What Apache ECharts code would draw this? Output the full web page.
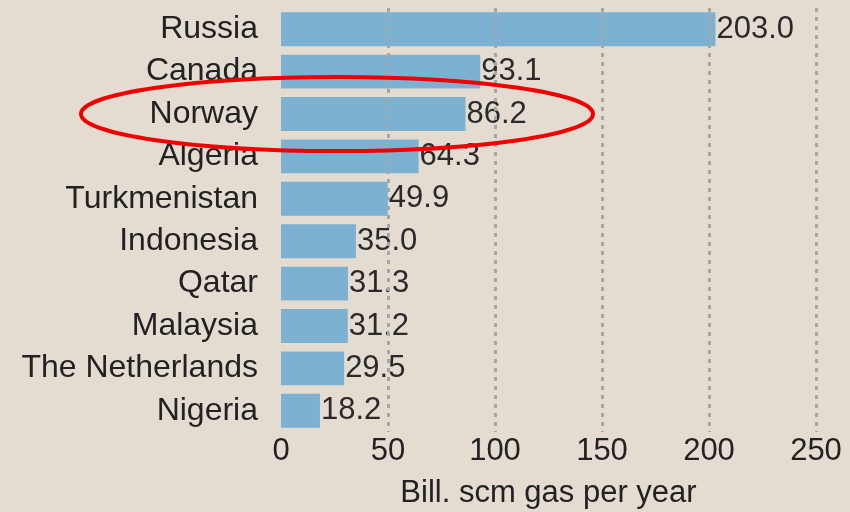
<!DOCTYPE html>
<html>
<head>
<meta charset="utf-8" />
<title>Gas production</title>
<script src="https://cdn.jsdelivr.net/npm/echarts@6/dist/echarts.min.js"></script>
<style>
  html, body { margin: 0; padding: 0; background: #e4dcd1; }
  #main { width: 850px; height: 512px; }
</style>
</head>
<body>
<div id="main"></div>
<script>
// data
var countries = ['Russia', 'Canada', 'Norway', 'Algeria', 'Turkmenistan', 'Indonesia',
                 'Qatar', 'Malaysia', 'The Netherlands', 'Nigeria'];
var gasOutput = [203.0, 93.1, 86.2, 64.3, 49.9, 35.0, 31.3, 31.2, 29.5, 18.2];
var xTicks = [0, 50, 100, 150, 200, 250];
var xTitle = 'Bill. scm gas per year';

var font = '"Liberation Sans", Arial, sans-serif';
var chart = echarts.init(document.getElementById('main'));

var option = {
    backgroundColor: '#e4dcd1',
    animation: false,
    textStyle: { fontFamily: font },
    grid: { left: 281, right: 34, top: 8, bottom: 80, outerBoundsMode: 'none', containLabel: false },
    xAxis: {
        type: 'value',
        min: xTicks[0],
        max: xTicks[xTicks.length - 1],
        interval: xTicks[1] - xTicks[0],
        z: 5, // dotted lines sit over the bars
        axisLine: { show: false },
        axisTick: { show: false },
        axisLabel: { fontSize: 31, color: '#222', margin: 4, fontFamily: font },
        splitLine: {
            show: true,
            showMinLine: false,
            lineStyle: { color: '#a3a6ab', width: 3, type: [4, 5] }
        },
        name: xTitle,
        nameLocation: 'middle',
        nameGap: 46,
        nameTextStyle: { fontSize: 31, color: '#222', fontFamily: font }
    },
    yAxis: {
        type: 'category',
        data: countries,
        inverse: true,
        axisLine: { show: false },
        axisTick: { show: false },
        axisLabel: { interval: 0, fontSize: 32, color: '#222', margin: 23, fontFamily: font }
    },
    series: [{
        type: 'bar',
        data: gasOutput,
        barWidth: '80%',
        itemStyle: { color: '#7db1d2' },
        label: {
            show: true,
            position: 'right',
            distance: 1,
            fontSize: 31,
            color: '#2a2a2a',
            fontFamily: font,
            formatter: function (p) { return p.value.toFixed(1); }
        }
    }]
};
chart.setOption(option);

// red ring drawn around the Norway row
var norwayY = chart.convertToPixel({ yAxisIndex: 0 }, 'Norway');
chart.setOption({
    graphic: [{
        type: 'ellipse',
        z: 100,
        shape: { cx: 337, cy: norwayY, rx: 256, ry: 37 },
        style: { fill: 'none', stroke: '#f00000', lineWidth: 4 }
    }]
});
</script>
</body>
</html>
